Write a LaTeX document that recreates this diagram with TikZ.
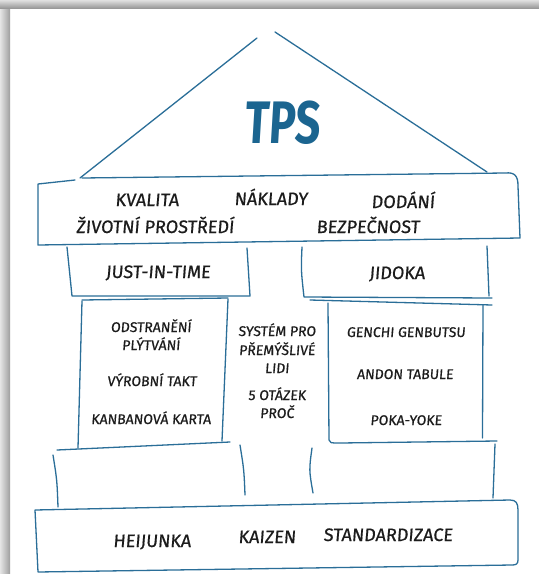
\documentclass[tikz,border=0pt]{standalone}
\usepackage{fontspec}
\newfontfamily\handfont[FakeSlant=0.08,FakeBold=0.6]{Fira Sans}
\newfontfamily\titlefont[FakeSlant=0.06,FakeStretch=0.74]{Fira Sans Bold}
\definecolor{inkblue}{HTML}{2A6E98}
\definecolor{titleblue}{HTML}{1B6590}
\definecolor{inktext}{HTML}{1C1C1C}
\tikzset{
  sketch/.style={draw=inkblue, line width=1.3pt, line cap=round, line join=round},
  biglabel/.style={inner sep=0pt, anchor=base, text=inktext, font=\handfont\fontsize{18}{20}\selectfont},
  smalllabel/.style={inner sep=0pt, anchor=base, text=inktext, font=\handfont\fontsize{14}{16}\selectfont},
}
\begin{document}
\begin{tikzpicture}[x=1pt,y=-1pt]
\useasboundingbox (0,0) rectangle (539,574);
\fill[white] (0,0) rectangle (539,574);
% page shadow along the left and top edges
\shade[left color=black!10, right color=black!38] (0,0) rectangle (10,574);
\shade[top color=black!12, bottom color=black!40] (0,0) rectangle (539,8);

% roof
\draw[sketch] (80,178) -- (257,38);
\draw[sketch] (275,32) -- (487,172);
\node[inner sep=0pt, anchor=base, text=titleblue, font=\titlefont\fontsize{60}{60}\selectfont] (tps) at (282,143) {TPS};

% goals band under the roof
\draw[sketch] (82,178) -- (505,173) .. controls (515,172) and (518,176) .. (518,186)
  -- (520,238) -- (38,245) -- (38,184) -- (75,180);
\node[biglabel] (kvalita) at (147,206) {KVALITA};
\node[biglabel] (naklady) at (271,205) {NÁKLADY};
\node[biglabel] (dodani) at (403,208) {DODÁNÍ};
\node[biglabel] (zivotni) at (155,233) {ŽIVOTNÍ PROSTŘEDÍ};
\node[biglabel] (bezpecnost) at (368,233) {BEZPEČNOST};

% pillar heads
\draw[sketch] (67,247) -- (72,296) -- (250,296) -- (247,248);
\draw[sketch] (302,247) .. controls (301,270) .. (304,297) -- (492,298);
\draw[sketch] (487,246) -- (489,296);
\node[biglabel] (jit) at (158,278) {JUST-IN-TIME};
\node[biglabel] (jidoka) at (397,279) {JIDOKA};

% pillar bodies
\draw[sketch] (82,300) -- (228,298);
\draw[sketch] (82,301) -- (78,448);
\draw[sketch] (228,299) -- (222,441);
\draw[sketch] (310,300) -- (492,305);
\draw[sketch] (328,303) -- (329,440) .. controls (330,443) .. (340,443) -- (497,441);
\draw[sketch] (483,305) -- (482.5,438);

\node[smalllabel] (odstraneni) at (151,332) {ODSTRANĚNÍ};
\node[smalllabel] (plytvani) at (151,350) {PLÝTVÁNÍ};
\node[smalllabel] (takt) at (152,386) {VÝROBNÍ TAKT};
\node[smalllabel] (kanban) at (151,424) {KANBANOVÁ KARTA};

\node[smalllabel] (system) at (277,336) {SYSTÉM PRO};
\node[smalllabel] (premysl) at (277,355) {PŘEMÝŠLIVÉ};
\node[smalllabel] (lidi) at (277,373) {LIDI};
\node[smalllabel] (otazek) at (277,400) {5 OTÁZEK};
\node[smalllabel] (proc) at (277,418) {PROČ};

\node[smalllabel] (genchi) at (406,337) {GENCHI GENBUTSU};
\node[smalllabel] (andon) at (405,379) {ANDON TABULE};
\node[smalllabel] (poka) at (406,425) {POKA-YOKE};

% pillar feet
\draw[sketch] (57,450) -- (230,442);
\draw[sketch] (53,455) .. controls (57,480) .. (58,507);
\draw[sketch] (240,445) .. controls (244,470) .. (245,495);
\draw[sketch] (312,448) .. controls (309,470) .. (313,493);
\draw[sketch] (495,444) -- (493,498);

% foundation
\draw[sketch] (35,510) -- (510,500) .. controls (516,500) and (518,503) .. (518,510)
  -- (518,560) .. controls (518,564) and (516,565) .. (512,565) -- (38,572) -- (35,510);
\node[biglabel] (heijunka) at (152,547) {HEIJUNKA};
\node[biglabel] (kaizen) at (267,543) {KAIZEN};
\node[biglabel] (standard) at (388,541) {STANDARDIZACE};
\end{tikzpicture}
\end{document}
